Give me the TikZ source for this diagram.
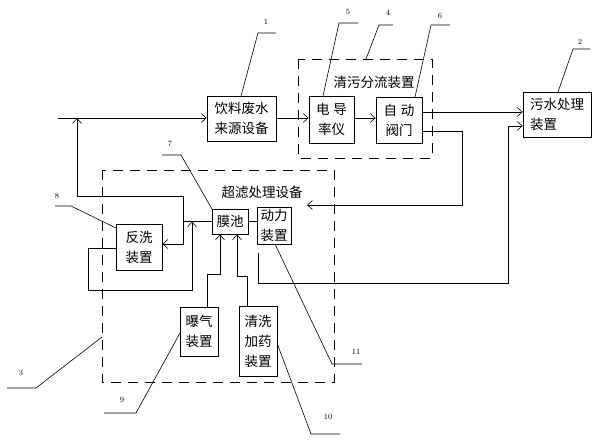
\documentclass[tikz,border=0pt]{standalone}
\usepackage{fontspec}
\newfontfamily\cjk{Noto Sans CJK SC}
\usetikzlibrary{arrows.meta}
\begin{document}
\begin{tikzpicture}[x=1pt,y=-1pt,
  box/.style={draw,line width=0.8pt,inner sep=0pt,align=center,font=\cjk\fontsize{13.5}{20}\selectfont},
  conn/.style={line width=0.8pt},
  arr/.style={line width=0.8pt,-{Straight Barb[length=5pt,width=9pt,line width=0.6pt]}},
  dbox/.style={line width=0.8pt,dash pattern=on 10pt off 7pt},
  lead/.style={line width=0.6pt},
  num/.style={font=\fontsize{8}{8}\selectfont,inner sep=0pt},
  ttl/.style={font=\cjk\fontsize{13.5}{16}\selectfont,inner sep=0pt}]
\useasboundingbox (0,0) rectangle (592,440);
% boxes
\node[box,minimum width=69pt,minimum height=45pt] (src) at (241.5,118.5) {饮料废水\\来源设备};
\node[box,minimum width=45pt,minimum height=47pt] (cond) at (331.5,119.5) {电\hspace{4pt}导\\率仪};
\node[box,minimum width=46pt,minimum height=46pt] (valve) at (399,120) {自\hspace{4pt}动\\阀门};
\node[box,minimum width=68pt,minimum height=45pt,align=left] (sew) at (557,114.5) {污水处理\\装置\hspace{27pt}};
\node[box,minimum width=46pt,minimum height=46pt] (back) at (139,247) {反洗\\装置};
\node[box,minimum width=36pt,minimum height=25pt] (mem) at (230,221.5) {膜池};
\node[box,minimum width=34pt,minimum height=37pt] (pow) at (274,225.5) {动力\\装置};
\node[box,minimum width=38pt,minimum height=49pt] (aer) at (199,331.5) {曝气\\装置};
\node[box,minimum width=38pt,minimum height=70pt] (clean) at (258,341) {清洗\\加药\\装置};
% dashed groups
\draw[dbox] (298,59) rectangle (432,158);
\draw[dbox] (102,170) rectangle (334,382);
\node[ttl] (t1) at (374,82) {清污分流装置};
\node[ttl] (t2) at (262,192) {超滤处理设备};
% coordinates
\coordinate (in0) at (58,118);
\coordinate (ufin) at (307,205);
\coordinate (powout) at (258,253);
\coordinate (J) at (183,221.5);
% connectors
\draw[arr] (in0) -- (src.west |- in0);
\draw[arr] (src.east |- in0) -- (cond.west |- in0);
\draw[arr] (cond.east |- in0) -- (valve.west |- in0);
\draw[arr] (valve.east |- 0,112) -- (sew.west |- 0,112);
\draw[arr] (valve.east |- 0,131) -- (462,131) -- (462,205) -- (ufin);
\draw[arr] (powout) -- (258,283) -- (508,283) -- (508,126) -- (sew.west |- 0,126);
\draw[conn] (mem.west) -- (J);
\draw[arr] (J) -- (183,196) -- (77,196) -- (77,118);
\draw[arr] (J) -- (183,244) -- (back.east |- 0,244);
\draw[arr] (back.west |- 0,248) -- (88,248) -- (88,290) -- (192,290) -- (192,221.5);
\draw[conn] (mem.east) -- (pow.west |- mem.east);
\draw[arr] ([xshift=8pt]aer.north) |- (220,274) -- (220,0 |- mem.south);
\draw[arr] ([xshift=-11pt]clean.north) |- (237,276) -- (237,0 |- mem.south);
% leaders and numbers
\draw[lead] (241,96) -- (258,33) -- (276,33); \node[num] (n1) at (266,22) {1};
\draw[lead] (323,96) -- (339,23) -- (358,23); \node[num] (n5) at (348,12) {5};
\draw[lead] (366,59) -- (379,25) -- (393,25); \node[num] (n4) at (388,13) {4};
\draw[lead] (415,97) -- (431,25) -- (450,25); \node[num] (n6) at (440,16) {6};
\draw[lead] (558,92) -- (573,49) -- (590,49); \node[num] (n2) at (580,42) {2};
\draw[lead] (212,209) -- (181,155) -- (162,155); \node[num] (n7) at (170,144) {7};
\draw[lead] (116,228) -- (71,206) -- (55,206); \node[num] (n8) at (57,196) {8};
\draw[lead] (102,337) -- (36,388) -- (7,388); \node[num] (n3) at (21,373) {3};
\draw[lead] (180,333) -- (136,413) -- (104,413); \node[num] (n9) at (122,400) {9};
\draw[lead] (277,343) -- (311,434) -- (340,434); \node[num] (n10) at (328,417) {10};
\draw[lead] (275,244) -- (332,364) -- (362,364); \node[num] (n11) at (356,352) {11};
\end{tikzpicture}
\end{document}
